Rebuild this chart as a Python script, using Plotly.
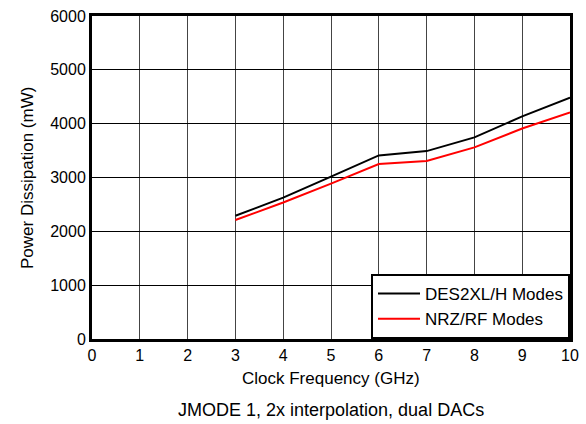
import plotly.graph_objects as go

freq = [3, 4, 5, 6, 7, 8, 9, 10]
des2xl_h = [2290, 2625, 3015, 3410, 3490, 3745, 4135, 4485]
nrz_rf = [2210, 2535, 2885, 3250, 3305, 3560, 3910, 4210]

x_ticks = list(range(0, 11))
y_ticks = list(range(0, 7000, 1000))

FONT = "Liberation Sans, Arial, sans-serif"

fig = go.Figure()
fig.add_trace(go.Scatter(x=freq, y=des2xl_h, mode="lines", name="DES2XL/H Modes",
                         line=dict(color="black", width=2)))
fig.add_trace(go.Scatter(x=freq, y=nrz_rf, mode="lines", name="NRZ/RF Modes",
                         line=dict(color="red", width=2)))

fig.update_xaxes(
    range=[0, 10], tickvals=x_ticks, showgrid=True, gridcolor="#444444", gridwidth=1,
    showline=True, linecolor="black", linewidth=3, mirror=True, zeroline=False,
    ticks="", tickfont=dict(size=16, color="black"), automargin=False,
)
fig.update_yaxes(
    range=[0, 6000], tickvals=y_ticks, showgrid=True, gridcolor="black", gridwidth=1,
    showline=True, linecolor="black", linewidth=3, mirror=True, zeroline=False,
    ticks="", tickfont=dict(size=16, color="black"), automargin=False,
)

# axis titles and caption as annotations for exact placement
fig.add_annotation(text="Clock Frequency (GHz)", xref="paper", yref="paper",
                   x=0.5, y=-0.121, yanchor="middle", showarrow=False,
                   font=dict(size=17, color="black", family=FONT))
fig.add_annotation(text="Power Dissipation (mW)", xref="paper", yref="paper",
                   x=-0.135, y=0.5, xanchor="center", yanchor="middle", textangle=-90,
                   showarrow=False, font=dict(size=17, color="black", family=FONT))
fig.add_annotation(text="JMODE 1, 2x interpolation, dual DACs", xref="paper", yref="paper",
                   x=0.5, y=-0.22, yanchor="middle", showarrow=False,
                   font=dict(size=18, color="black", family=FONT))

fig.update_layout(
    width=586, height=424,
    margin=dict(l=92, r=16, t=16, b=85),
    paper_bgcolor="white", plot_bgcolor="white",
    font=dict(family=FONT, color="black"),
    showlegend=True,
    legend=dict(x=1, y=0, xanchor="right", yanchor="bottom",
                bgcolor="white", bordercolor="black", borderwidth=2,
                font=dict(size=17, color="black"), tracegroupgap=0,
                itemwidth=42),
)

# drop the default page margin so the figure sits at the window origin
fig.write_html("out.html", config={"displayModeBar": False},
               post_script="document.body.style.margin='0px';")
